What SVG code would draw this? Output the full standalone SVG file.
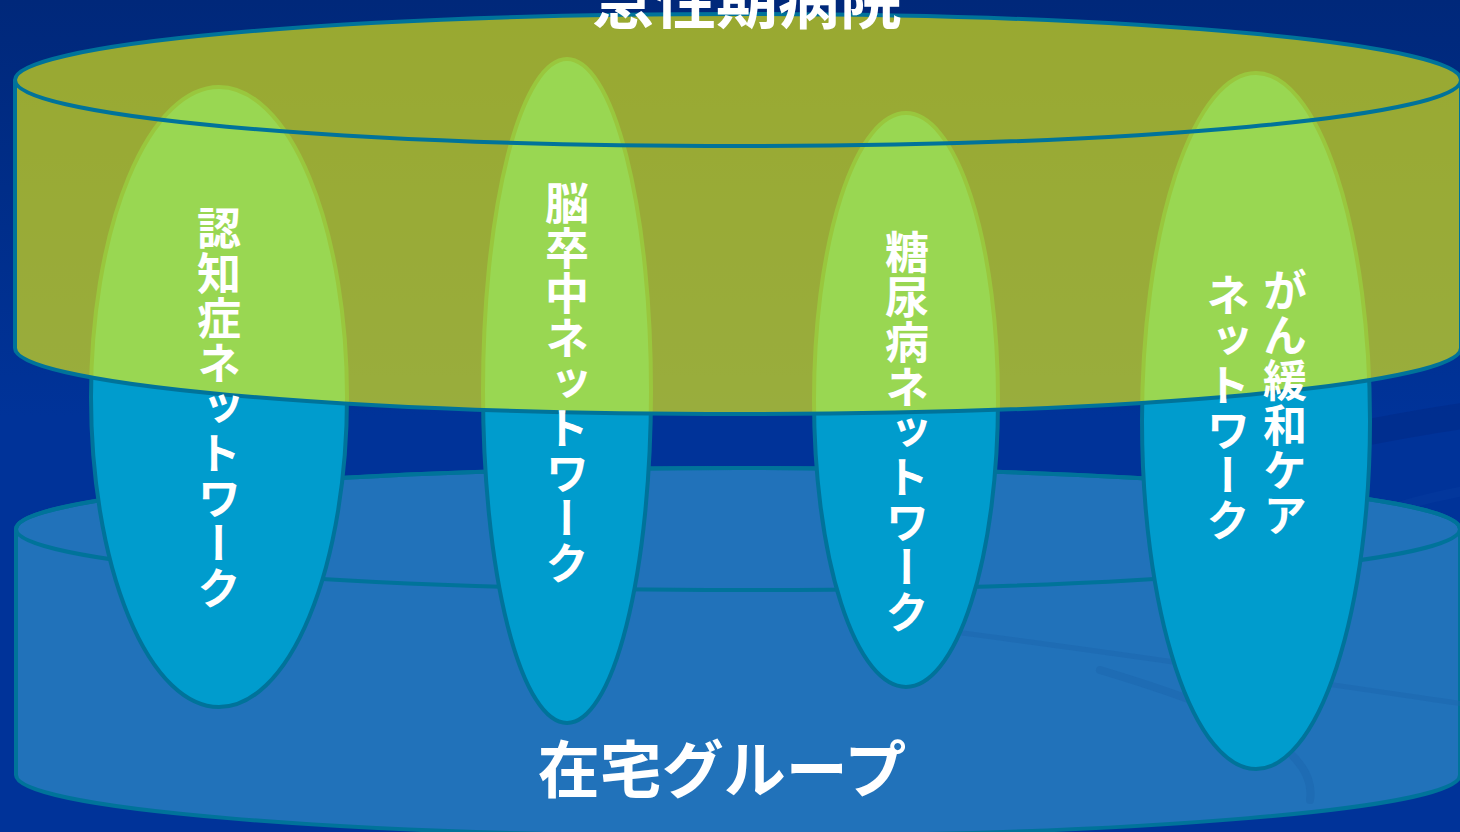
<svg xmlns="http://www.w3.org/2000/svg" width="1460" height="832" viewBox="0 0 1460 832">
<defs>
<linearGradient id="bg" x1="0" y1="0" x2="0" y2="1">
<stop offset="0" stop-color="#00287A"/>
<stop offset="0.5" stop-color="#003399"/>
<stop offset="1" stop-color="#003399"/>
</linearGradient>
<style>
.edge{stroke:#00739A;stroke-width:4;}
.net{fill:#009CCD;stroke:#00739A;stroke-width:4;}
.hosp{fill:#FFFF00;fill-opacity:0.6;}
.lbl{fill:#FFFFFF;font-family:"Noto Sans CJK JP","Noto Sans",sans-serif;font-weight:700;}
.vt{font-size:44px;writing-mode:vertical-rl;letter-spacing:1px;}
.big{font-size:62px;text-anchor:middle;}
.sw{fill:none;stroke-linecap:round;}
</style>
</defs>
<rect x="0" y="0" width="1460" height="832" fill="url(#bg)"/>
<g id="background-swooshes">
<path class="sw" d="M1200,470 C1300,445 1400,425 1470,415" stroke="#00257F" stroke-opacity="0.35" stroke-width="26"/>
<path class="sw" d="M1360,520 C1400,505 1440,495 1470,490" stroke="#0A45A8" stroke-opacity="0.25" stroke-width="10"/>
</g>
<g id="home-group">
<path d="M16,529 L16,775 A722,61 0 0 0 1460,775 L1460,529 A722,61 0 0 0 16,529 Z" fill="#2172BA" class="edge"/>
<ellipse cx="738" cy="529" rx="722" ry="61" fill="none" class="edge"/>
<path class="sw" d="M900,625 C1100,650 1300,680 1470,705" stroke="#1C66AE" stroke-opacity="0.5" stroke-width="5"/>
<path class="sw" d="M1100,670 C1200,700 1320,740 1310,800" stroke="#1C66AE" stroke-opacity="0.5" stroke-width="8"/>
</g>
<g id="network-dementia"><ellipse class="net" cx="219" cy="397" rx="128" ry="310"/></g>
<g id="network-stroke"><ellipse class="net" cx="567" cy="391" rx="84" ry="332"/></g>
<g id="network-diabetes"><ellipse class="net" cx="906" cy="400" rx="92" ry="287"/></g>
<g id="network-cancer"><ellipse class="net" cx="1256" cy="421" rx="114" ry="348"/></g>
<g id="acute-hospital">
<path class="hosp" d="M15,80 L15,348 A723,66 0 0 0 1461,348 L1461,80 A723,66 0 0 0 15,80 Z"/>
<path d="M15,80 L15,348 A723,66 0 0 0 1461,348 L1461,80" fill="none" class="edge"/>
<ellipse cx="738" cy="80" rx="723" ry="66" fill="none" class="edge"/>
</g>
<g id="labels">
<text class="lbl big" x="747" y="24">急性期病院</text>
<text class="lbl big" x="722" y="793">在宅グループ</text>
<text class="lbl vt" x="219" y="206">認知症ネットワーク</text>
<text class="lbl vt" x="567" y="181">脳卒中ネットワーク</text>
<text class="lbl vt" x="907" y="230">糖尿病ネットワーク</text>
<text class="lbl vt" x="1285" y="268">がん緩和ケア</text>
<text class="lbl vt" x="1228" y="273">ネットワーク</text>
</g>
</svg>
